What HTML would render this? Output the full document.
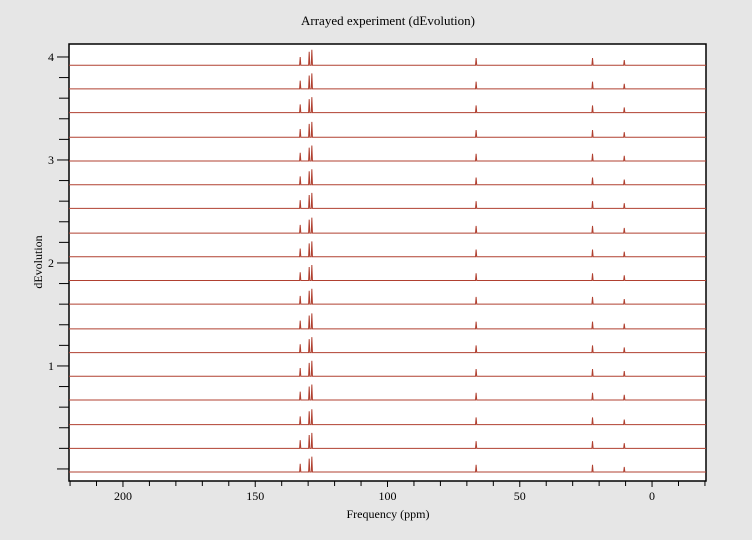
<!DOCTYPE html>
<html><head><meta charset="utf-8"><style>
body{margin:0;background:#e6e6e6;width:752px;height:535px;overflow:hidden;font-family:"Liberation Serif",serif}
svg text{font-family:"Liberation Serif",serif;fill:#000}
</style></head><body>
<svg id="c" width="752" height="535"></svg>
<script>
const traceOffsets=[3.92,3.69,3.46,3.22,2.99,2.76,2.53,2.29,2.06,1.83,1.60,1.36,1.13,0.90,0.67,0.43,0.20,-0.03];
const peakPpm=[133,129.6,128.6,66.5,22.5,10.5];
const peakHeights=[0.08,0.13,0.15,0.07,0.07,0.05];
const xTickLabels=[200,150,100,50,0];
const yTickLabels=[1,2,3,4];
const L=69,R=706,T=44,B=481,xMin=220.4,xMax=-20.4,yMin=-0.117,yMax=4.126;
const X=v=>L+(xMin-v)/(xMin-xMax)*(R-L);
const Y=v=>B-(v-yMin)/(yMax-yMin)*(B-T);
const svg=document.getElementById('c');const NS='http://www.w3.org/2000/svg';
function mk(t,a,p){const e=document.createElementNS(NS,t);for(const k in a)e.setAttribute(k,a[k]);(p||svg).appendChild(e);return e;}
const bg=mk('rect',{x:L,y:T,width:R-L,height:B-T,fill:'#fff',stroke:'#000','stroke-width':1.5});


traceOffsets.forEach((o,i)=>{
  let pts=[[L,Y(o)]];
  const sorted=peakPpm.map((p,j)=>[p,peakHeights[j]]).sort((a,b)=>b[0]-a[0]);
  sorted.forEach(([p,h])=>{const x=X(p);pts.push([x-0.6,Y(o)],[x,Y(o+h)],[x+0.6,Y(o)]);});
  pts.push([R,Y(o)]);
  const pl=mk('polyline',{points:pts.map(q=>q.join(',')).join(' '),fill:'none',stroke:'#b04030','stroke-width':1});
  
  
});
for(let v=220;v>=-20;v-=10){mk('line',{x1:X(v),x2:X(v),y1:B,y2:B+(v%50==0?6:5),stroke:'#000'});}
xTickLabels.forEach(v=>{const t=mk('text',{x:X(v),y:B+19,'text-anchor':'middle','font-size':12});t.textContent=v;

});
for(let k=0;k<=20;k++){const v=k*0.2;const y=Y(v);if(y<T||y>B)continue;mk('line',{x1:L-(k%5==0?12:10),x2:L,y1:y,y2:y,stroke:'#000'});}
yTickLabels.forEach(v=>{const t=mk('text',{x:L-15,y:Y(v)+4,'text-anchor':'end','font-size':12});t.textContent=v;

});
const tt=mk('text',{x:388,y:25,'text-anchor':'middle','font-size':13});tt.textContent='Arrayed experiment (dEvolution)';


const xl=mk('text',{x:388,y:518,'text-anchor':'middle','font-size':12});xl.textContent='Frequency (ppm)';


const yl=mk('text',{x:0,y:0,'text-anchor':'middle','font-size':12,transform:'translate(42,262) rotate(-90)'});yl.textContent='dEvolution';


</script>
</body></html>
